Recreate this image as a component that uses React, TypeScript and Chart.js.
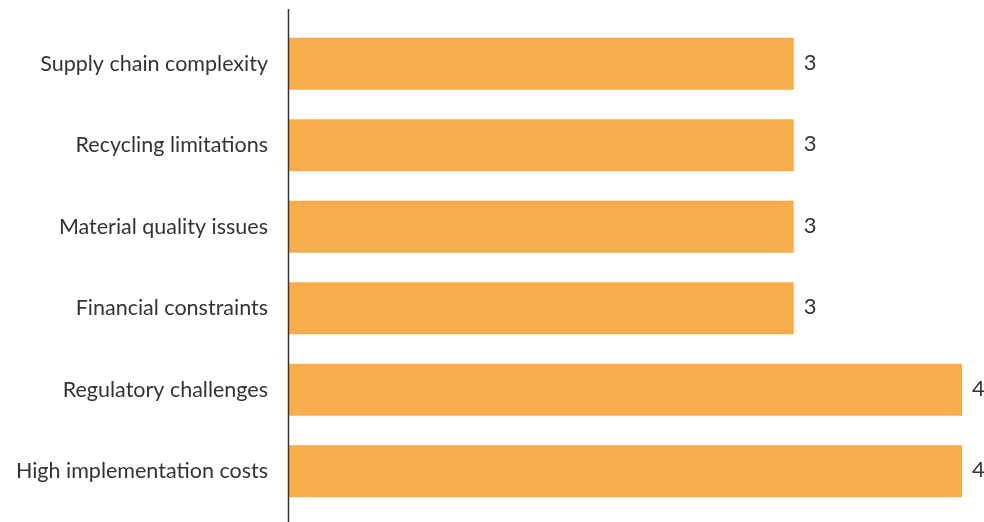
import React, { useEffect, useRef } from "react";
import { Chart, registerables } from "chart.js";

Chart.register(...registerables);

const categories = [
  "Supply chain complexity",
  "Recycling limitations",
  "Material quality issues",
  "Financial constraints",
  "Regulatory challenges",
  "High implementation costs",
];
const values = [3, 3, 3, 3, 4, 4];
const barColor = "#F8AC4B";
const textColor = "#333333";
const fontFamily = "Lato, 'Open Sans', sans-serif";

const valueLabels = {
  id: "valueLabels",
  afterDatasetsDraw(chart: any) {
    const ctx = chart.ctx;
    const meta = chart.getDatasetMeta(0);
    ctx.save();
    ctx.fillStyle = textColor;
    ctx.font = `22px ${fontFamily}`;
    ctx.textAlign = "left";
    ctx.textBaseline = "middle";
    meta.data.forEach((el: any, i: number) => {
      ctx.fillText(String(values[i]), el.x + 10, el.y - 1);
    });
    ctx.restore();
  },
};

const axisLine = {
  id: "axisLine",
  afterDraw(chart: any) {
    const ctx = chart.ctx;
    const x = chart.chartArea.left;
    ctx.save();
    ctx.strokeStyle = "#333333";
    ctx.lineWidth = 1.5;
    ctx.beginPath();
    ctx.moveTo(x - 0.5, 9);
    ctx.lineTo(x - 0.5, chart.height);
    ctx.stroke();
    ctx.restore();
  },
};

export default function App() {
  const ref = useRef<HTMLCanvasElement | null>(null);
  useEffect(() => {
    if (!ref.current) return;
    const chart = new Chart(ref.current, {
      type: "bar",
      data: {
        labels: categories,
        datasets: [
          {
            data: values,
            backgroundColor: barColor,
            borderWidth: 0,
            barPercentage: 0.8,
            categoryPercentage: 0.8,
          },
        ],
      },
      options: {
        indexAxis: "y",
        animation: false,
        responsive: true,
        maintainAspectRatio: false,
        layout: { padding: { top: 23, bottom: 10, right: 22, left: 0 } },
        plugins: {
          legend: { display: false },
          tooltip: { enabled: false },
        },
        scales: {
          x: {
            min: 0,
            max: 4,
            display: false,
          },
          y: {
            grid: { display: false, drawTicks: false },
            border: { display: false },
            ticks: {
              color: textColor,
              font: { family: fontFamily, size: 21.5 },
              padding: 21,
            },
            afterFit(scale: any) {
              scale.width = 289;
              scale.paddingTop = 0;
              scale.paddingBottom = 0;
            },
          },
        },
      },
      plugins: [valueLabels, axisLine],
    });
    return () => chart.destroy();
  }, []);
  return (
    <div style={{ position: "absolute", left: 0, top: 0, width: 984, height: 522, background: "#fff" }}>
      <canvas ref={ref} />
    </div>
  );
}
